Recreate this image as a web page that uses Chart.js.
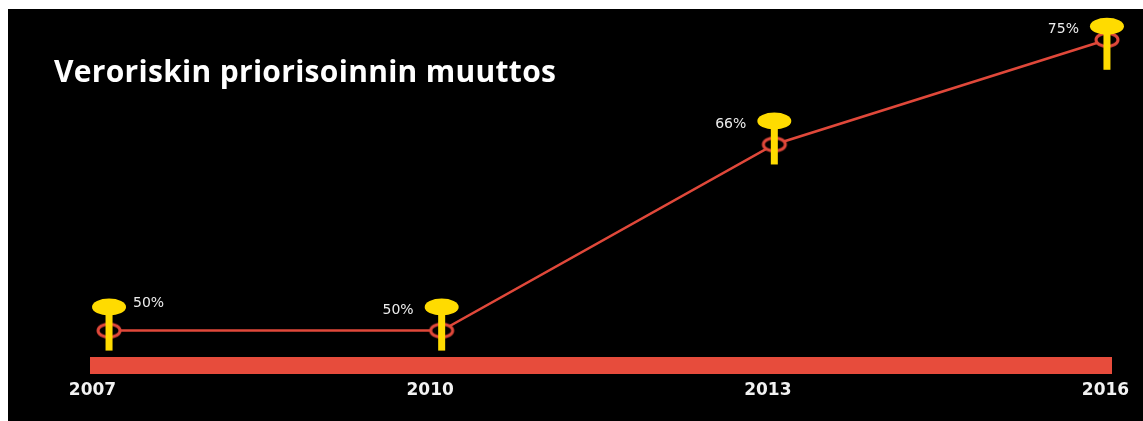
<!DOCTYPE html>
<html>
<head>
<meta charset="utf-8">
<title>Veroriskin priorisoinnin muuttos</title>
<script src="https://cdn.jsdelivr.net/npm/chart.js@4/dist/chart.umd.min.js"></script>
<style>
  body { margin: 0; background: #fff; }
  #caixa { position: relative; width: 1143px; height: 421px; }
  #titulo {
    position: absolute; left: 54px; top: 50px; letter-spacing: 0.3px;
    color: #fff; font: bold 30px "Open Sans", sans-serif; white-space: nowrap;
  }
</style>
</head>
<body>
<div id="caixa">
  <canvas id="grafico" width="1143" height="421"></canvas>
  <div id="titulo">Veroriskin priorisoinnin muuttos</div>
</div>
<script>
// Dados do gráfico
var anos = ["2007", "2010", "2013", "2016"];
var anosNum = [2007, 2010, 2013, 2016];
var valores = [50, 50, 66, 75];

// Estilo dos marcadores (lado do rótulo e deslocamento do pino)
var ladoRotulo = ["direita", "esquerda", "esquerda", "esquerda"];
var deslocPino = [0, 0, 0, 10];

var vermelho = "#e74c3c";
var linhaCor = "#e0483a";
var amarelo = "#ffdb00";

// Anel elíptico usado como ponto
function criarAnel() {
  var c = document.createElement("canvas");
  c.width = 28;
  c.height = 18;
  var ctx = c.getContext("2d");
  ctx.beginPath();
  ctx.ellipse(14, 9, 11, 6.5, 0, 0, Math.PI * 2);
  ctx.fillStyle = "#000";
  ctx.fill();
  ctx.lineWidth = 3;
  ctx.strokeStyle = linhaCor;
  ctx.stroke();
  return c;
}

// Fundo branco com a área preta
var fundo = {
  id: "fundo",
  beforeDraw: function (chart) {
    var ctx = chart.ctx;
    ctx.save();
    ctx.fillStyle = "#fff";
    ctx.fillRect(0, 0, chart.width, chart.height);
    ctx.fillStyle = "#000";
    ctx.fillRect(8, 9, chart.width - 8, chart.height - 9);
    ctx.restore();
  },
};

// Pinos amarelos e rótulos de porcentagem
var pinos = {
  id: "pinos",
  afterDatasetsDraw: function (chart) {
    var ctx = chart.ctx;
    var meta = chart.getDatasetMeta(0);
    meta.data.forEach(function (ponto, i) {
      var x = ponto.x;
      var y = ponto.y + deslocPino[i];
      ctx.save();
      ctx.fillStyle = amarelo;
      ctx.fillRect(x - 3.5, y - 17, 7, 37);
      ctx.beginPath();
      ctx.ellipse(x, y - 23.5, 17, 8.5, 0, 0, Math.PI * 2);
      ctx.fill();

      ctx.font = "14px 'DejaVu Sans'";
      ctx.fillStyle = "#ececec";
      ctx.textBaseline = "middle";
      var texto = valores[i] + "%";
      if (ladoRotulo[i] === "direita") {
        ctx.textAlign = "left";
        ctx.fillText(texto, x + 24, y - 27);
      } else {
        ctx.textAlign = "right";
        ctx.fillText(texto, x - 28, y - 20);
      }
      ctx.restore();
    });
  },
};

var pontos = anosNum.map(function (a, i) {
  return { x: a, y: valores[i] };
});

var ctx = document.getElementById("grafico").getContext("2d");
var grafico = new Chart(ctx, {
  type: "line",
  data: {
    labels: anos,
    datasets: [
      {
        data: pontos,
        xAxisID: "xp",
        borderColor: linhaCor,
        borderWidth: 2.5,
        pointStyle: criarAnel(),
        pointRadius: 10,
        tension: 0,
        clip: false,
      },
    ],
  },
  options: {
    responsive: false,
    animation: false,
    layout: { padding: { left: 98.5, right: 31.5, top: 20, bottom: 0 } },
    plugins: {
      legend: { display: false },
      tooltip: { enabled: false },
    },
    scales: {
      x: {
        type: "category",
        offset: false,
        grid: { display: false, drawTicks: false },
        border: { display: true, color: vermelho, width: 17 },
        ticks: {
          color: "#f2f2f2",
          font: { family: "DejaVu Sans", size: 17, weight: "bold", lineHeight: "50px" },
          padding: 0,
          labelOffset: -6,
          maxRotation: 0,
          autoSkip: false,
        },
        // altura fixa do eixo para posicionar a barra vermelha
        afterFit: function (escala) {
          escala.height = 55.5;
        },
      },
      xp: { type: "linear", display: false, min: 2006.905, max: 2016.041 },
      y: { display: false, min: 47, max: 76.7 },
    },
  },
  plugins: [fundo, pinos],
});
</script>
</body>
</html>
